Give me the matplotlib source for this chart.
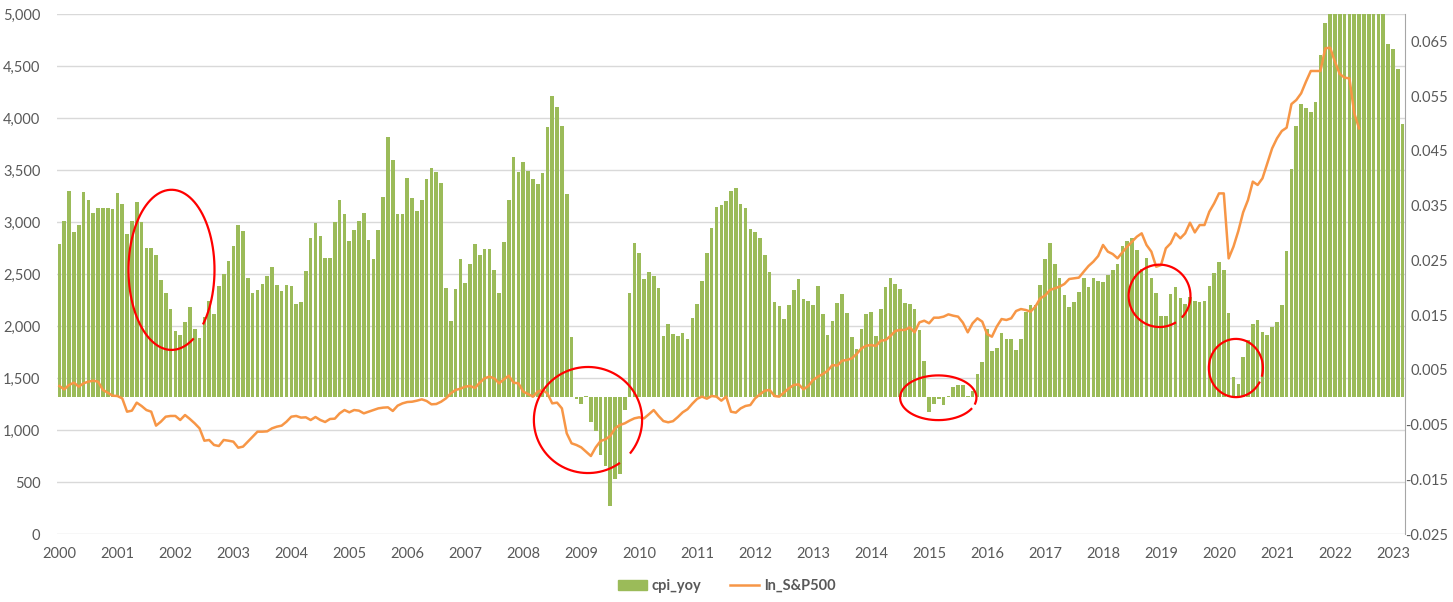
import matplotlib
matplotlib.use("Agg")
import matplotlib.pyplot as plt
import numpy as np
from matplotlib.patches import Patch
from matplotlib.lines import Line2D

# monthly CPI year-over-year, percent, Jan 2000 .. Mar 2023
cpi_yoy_pct = [
    2.80, 3.21, 3.76, 3.02, 3.15, 3.75, 3.60, 3.37, 3.45, 3.45, 3.45, 3.44,
    3.73, 3.52, 2.98, 3.21, 3.56, 3.20, 2.73, 2.73, 2.59, 2.14, 1.90, 1.61,
    1.21, 1.13, 1.37, 1.65, 1.24, 1.08, 1.46, 1.76, 1.52, 2.03, 2.25, 2.49,
    2.76, 3.14, 3.03, 2.18, 1.90, 1.96, 2.07, 2.21, 2.38, 2.05, 1.94, 2.05,
    2.03, 1.70, 1.74, 2.31, 2.91, 3.18, 2.95, 2.55, 2.55, 3.20, 3.61, 3.34,
    2.85, 3.05, 3.21, 3.36, 2.87, 2.53, 3.06, 3.65, 4.75, 4.34, 3.34, 3.34,
    4.01, 3.63, 3.41, 3.61, 3.98, 4.18, 4.11, 3.92, 2.00, 1.40, 1.97, 2.52,
    2.08, 2.43, 2.79, 2.59, 2.70, 2.70, 2.32, 1.90, 2.83, 3.61, 4.38, 4.11,
    4.29, 4.14, 3.98, 3.90, 4.09, 4.93, 5.50, 5.31, 4.95, 3.72, 1.09, -0.04,
    -0.13, 0.02, -0.46, -0.61, -1.05, -1.25, -1.98, -1.50, -1.41, -0.24, 1.91, 2.81,
    2.63, 2.15, 2.28, 2.21, 2.00, 1.11, 1.33, 1.15, 1.12, 1.17, 1.07, 1.45,
    1.70, 2.12, 2.63, 3.09, 3.47, 3.51, 3.58, 3.77, 3.82, 3.53, 3.46, 3.07,
    3.02, 2.91, 2.60, 2.29, 1.74, 1.67, 1.43, 1.68, 1.96, 2.16, 1.79, 1.76,
    1.68, 2.03, 1.52, 1.14, 1.39, 1.72, 1.88, 1.54, 1.10, 0.88, 1.25, 1.52,
    1.56, 1.12, 1.61, 2.01, 2.18, 2.07, 1.98, 1.72, 1.70, 1.61, 1.23, 0.66,
    -0.27, -0.13, -0.04, -0.14, 0.02, 0.18, 0.22, 0.23, 0.02, 0.12, 0.43, 0.64,
    1.24, 0.84, 0.89, 1.17, 1.07, 1.07, 0.87, 1.06, 1.55, 1.68, 1.68, 2.04,
    2.52, 2.81, 2.44, 2.17, 1.86, 1.64, 1.73, 1.93, 2.17, 2.02, 2.17, 2.13,
    2.10, 2.23, 2.33, 2.44, 2.77, 2.85, 2.90, 2.68, 2.35, 2.54, 2.17, 1.91,
    1.49, 1.48, 1.88, 2.01, 1.81, 1.70, 1.83, 1.76, 1.74, 1.76, 2.03, 2.27,
    2.47, 2.32, 1.54, 0.37, 0.24, 0.73, 1.04, 1.34, 1.41, 1.19, 1.14, 1.28,
    1.37, 1.68, 2.67, 4.17, 4.95, 5.36, 5.28, 5.21, 5.39, 6.25, 6.84, 7.04,
    7.48, 7.87, 8.54, 8.26, 8.58, 9.06, 8.52, 8.26, 8.20, 7.75, 7.11, 6.45,
    6.36, 5.99, 4.99,
]

# S&P 500 monthly level, Jan 2000 .. Jun 2022
sp500 = [
    1423, 1391, 1433, 1455, 1417, 1449, 1465, 1474, 1465, 1385, 1359, 1330,
    1327, 1304, 1176, 1186, 1263, 1231, 1192, 1176, 1042, 1080, 1128, 1135,
    1135, 1096, 1144, 1106, 1064, 1016, 897, 904, 856, 846, 904, 897,
    888, 830, 840, 888, 936, 984, 984, 987, 1016, 1032, 1042, 1080,
    1128, 1135, 1119, 1122, 1096, 1125, 1096, 1077, 1106, 1109, 1160, 1192,
    1170, 1192, 1186, 1160, 1176, 1192, 1208, 1215, 1218, 1183, 1234, 1256,
    1269, 1272, 1282, 1295, 1279, 1247, 1250, 1272, 1304, 1352, 1385, 1397,
    1417, 1423, 1404, 1455, 1497, 1513, 1497, 1449, 1487, 1522, 1455, 1449,
    1369, 1346, 1320, 1369, 1385, 1352, 1256, 1263, 1208, 968, 872, 856,
    833, 792, 750, 833, 894, 910, 942, 1016, 1048, 1064, 1090, 1112,
    1122, 1112, 1151, 1192, 1135, 1086, 1074, 1085, 1125, 1170, 1200, 1253,
    1300, 1321, 1301, 1327, 1321, 1282, 1321, 1176, 1167, 1208, 1231, 1240,
    1305, 1343, 1378, 1385, 1327, 1321, 1362, 1401, 1433, 1439, 1391, 1423,
    1481, 1513, 1538, 1570, 1625, 1619, 1667, 1673, 1689, 1731, 1785, 1811,
    1817, 1808, 1859, 1865, 1904, 1952, 1962, 1962, 1987, 1939, 2035, 2051,
    2026, 2080, 2080, 2090, 2112, 2099, 2090, 2032, 1939, 2026, 2074, 2042,
    1923, 1897, 1994, 2067, 2058, 2074, 2144, 2163, 2154, 2138, 2186, 2266,
    2292, 2346, 2362, 2378, 2404, 2452, 2458, 2465, 2522, 2577, 2619, 2673,
    2779, 2715, 2692, 2651, 2708, 2763, 2811, 2859, 2891, 2779, 2715, 2570,
    2586, 2747, 2795, 2891, 2843, 2891, 2993, 2900, 2971, 2971, 3099, 3179,
    3275, 3275, 2650, 2763, 2913, 3093, 3211, 3388, 3356, 3420, 3564, 3708,
    3804, 3875, 3907, 4134, 4173, 4237, 4349, 4452, 4452, 4452, 4670, 4676,
    4541, 4423, 4388, 4381, 4045, 3900,
]

years = list(range(2000, 2024))

# hand-drawn red marks: (center month index, center level, x radius, y radius, gap start deg, gap end deg)
marks = [
    (23.2, 2540, 8.9, 770, 300, 318),
    (109.4, 1096, 11.2, 510, 305, 322),
    (181.9, 1310, 7.9, 215, 330, 345),
    (227.7, 2290, 6.4, 300, 300, 318),
    (243.5, 1596, 5.6, 280, 330, 345),
]

GREEN = "#9BBB59"
ORANGE = "#F79646"
GRID = "#D9D9D9"
TXT = "#595959"

plt.rcParams["font.family"] = ["Lato", "DejaVu Sans"]

W, H = 1453, 602
fig = plt.figure(figsize=(W / 100, H / 100), dpi=100)
ax = fig.add_axes([57 / W, (H - 534) / H, (1405 - 57) / W, (534 - 14) / H])
ax_bar = ax.twinx()
ax_line = ax.twinx()

x = np.arange(len(cpi_yoy_pct))
cpi = np.array(cpi_yoy_pct) / 100.0

# left axis: grid + labels
ax.set_ylim(0, 5000)
ax.set_yticks(np.arange(0, 5001, 500))
ax.set_yticklabels([f"{v:,}" for v in range(0, 5001, 500)])
ax.grid(axis="y", color=GRID, lw=1)
ax.set_xlim(-0.5, len(x) - 0.5)
ax.set_xticks([12 * i for i in range(len(years))])
ax.set_xticklabels([str(y) for y in years])
ax.tick_params(axis="both", length=0, colors=TXT, labelsize=10.5)
ax.tick_params(axis="y", pad=12)
ax.tick_params(axis="x", pad=9)
for s in ax.spines.values():
    s.set_visible(False)

# bars on secondary (right) axis
ax_bar.bar(x, cpi, width=0.75, color=GREEN)
ax_bar.set_ylim(-0.025, 0.07)
rt = np.arange(-0.025, 0.0651, 0.01)
ax_bar.set_yticks(rt)
ax_bar.set_yticklabels([f"{v:.3f}" for v in rt], ha="right")
ax_bar.tick_params(axis="y", length=0, colors=TXT, labelsize=10.5, pad=31)
for k in ("top", "left", "bottom"):
    ax_bar.spines[k].set_visible(False)
ax_bar.spines["right"].set_color("#A6A6A6")
ax_bar.set_xlim(-0.5, len(x) - 0.5)

# S&P line on left scale
ax_line.plot(x[:len(sp500)], sp500, color=ORANGE, lw=1.8)
ax_line.set_ylim(0, 5000)
ax_line.set_yticks([])
for s in ax_line.spines.values():
    s.set_visible(False)
ax_line.set_xlim(-0.5, len(x) - 0.5)

# red annotation loops
for cx, cy, rx, ry, g0, g1 in marks:
    t = np.radians(np.linspace(g1, g0 + 360, 200))
    ax_line.plot(cx + rx * np.cos(t), cy + ry * np.sin(t), color="red", lw=1.6, clip_on=False)

handles = [Patch(color=GREEN, label="cpi_yoy"),
           Line2D([], [], color=ORANGE, lw=1.8, label="ln_S&P500")]
fig.legend(handles=handles, loc="center", bbox_to_anchor=(0.5, (H - 586) / H), ncol=2,
           frameon=False, prop={"weight": "bold", "size": 10.5}, labelcolor=TXT,
           handlelength=2.0, handleheight=0.7, columnspacing=2.0, handletextpad=0.3)

fig.savefig("out.png", dpi=100)
